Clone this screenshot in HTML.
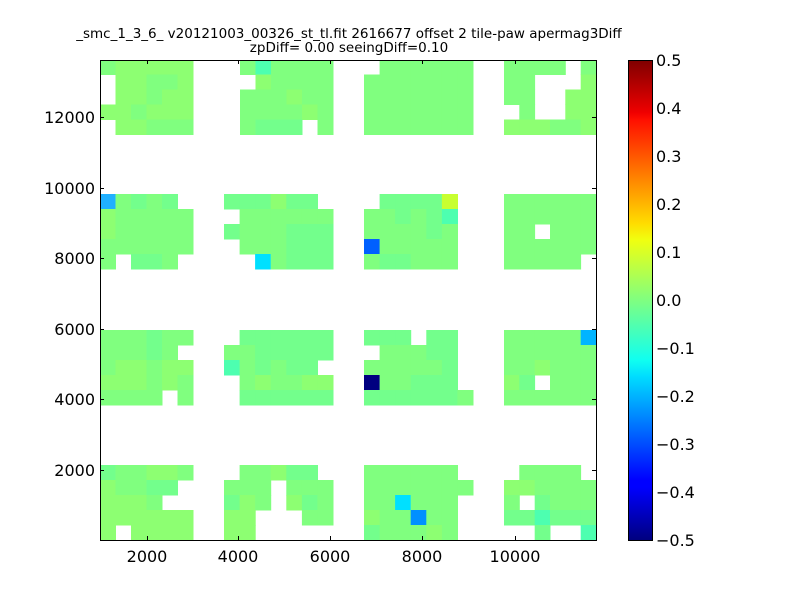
<!DOCTYPE html>
<html><head><meta charset="utf-8"><style>
html,body{margin:0;padding:0;background:#fff;}
svg{display:block;font-family:"DejaVu Sans","Liberation Sans",sans-serif;}
</style></head><body>
<svg id="s" width="800" height="600" viewBox="0 0 800 600" xmlns="http://www.w3.org/2000/svg">
<defs>
<linearGradient id="jet" x1="0" y1="1" x2="0" y2="0">
<stop offset="0" stop-color="#00007f"/>
<stop offset="0.11" stop-color="#0000ff"/>
<stop offset="0.125" stop-color="#0000ff"/>
<stop offset="0.34" stop-color="#00dcff"/>
<stop offset="0.375" stop-color="#10fff0"/>
<stop offset="0.5" stop-color="#80ff80"/>
<stop offset="0.625" stop-color="#f0ff10"/>
<stop offset="0.66" stop-color="#ffdc00"/>
<stop offset="0.875" stop-color="#ff1000"/>
<stop offset="0.89" stop-color="#f00000"/>
<stop offset="1" stop-color="#7f0000"/>
</linearGradient>
</defs>
<text x="349" y="38" font-size="13.5" text-anchor="middle">_smc_1_3_6_ v20121003_00326_st_tl.fit 2616677 offset 2 tile-paw apermag3Diff</text>
<text x="349" y="52" font-size="13.5" text-anchor="middle">zpDiff= 0.00 seeingDiff=0.10</text>
<g id="cells"></g>
<rect x="100.5" y="60.5" width="496" height="480" fill="none" stroke="#000" stroke-width="1"/>
<g id="ticks" stroke="#000" stroke-width="1"></g>
<g font-size="16" id="lbl"></g>
<rect x="628" y="60" width="24" height="480" fill="url(#jet)"/>
<rect x="628.5" y="60.5" width="24" height="480" fill="none" stroke="#000"/>
</svg>
<script>
var C={g:"#80ff7f",y:"#8dff72",c:"#73ff8c",T:"#4dffb0",B:"#20b0ff",C:"#00e0ff",D:"#0060ff",N:"#000080",Y:"#c8ff30",E:"#0090ff",F:"#00b4ff",'2':"#10c0ff"};
var blocks=[
[100,6,60,["gyyyyy",".yyggy",".yygyy","yygyyy",".yyggg"]],
[240,6,60,["gTgggg",".ygggg","gggygg","ggggyg","gccc.g"]],
[364,7,60,[".gggggg","ggggggg","ggggggg","ggggggg","ggggggg"]],
[504,6,60,["gggg.g","gg...y","gg..yy",".g..yy","yyyggy"]],
[100,6,194,["Bgcgc.","yggggg","yggggg","gggggg","g.ccg."]],
[224,7,194,["cccycc.",".gggggg","cgggccc",".gggccc","..Cgccc"]],
[364,7,194,[".ccccY.","ggcgcT.","ggggcg.","Dggggg.","gccggg."]],
[504,6,194,["gggggg","gggggg","gg.ggg","gggggg","ggggg."]],
[100,6,330,["gggcgg","gggcg.","gyygyy","yyygyg","gggg.g"]],
[224,7,330,[".cccccc","ggccccc","Tgcgcc.",".gyggyy",".cccccc"]],
[364,7,330,["ccc.cc.",".gggcc.","gggggc.","Nggccc.","ccccccg"]],
[504,6,330,["gggggF","gggggg","ggyggg","yc.ggg","gggggg"]],
[100,6,465,["cggyyg","yggcc.","yyyg..","yyyyyy","y.yyyy"]],
[224,7,465,[".ggycc.","ggg.ggg","cyg.ycg","yy...gg","yy....."]],
[364,7,465,["gggggg.","ggggggg","ggCggg.","yggEgg.","cgggyg."]],
[504,6,465,[".gggg.","yygggg","g.cggg","ccTccc","..c..T"]]
];
var g=document.getElementById("cells"),h="";
blocks.forEach(function(b){var x0=b[0],n=b[1],y0=b[2],rows=b[3];var w=(b[0]==504?92/6:(n==7?109/7:93/6));
rows.forEach(function(r,ri){for(var ci=0;ci<r.length;ci++){var ch=r[ci];if(ch=="."||ch==" ")continue;
var x=x0+ci*w,y=y0+ri*15,hh=15;if(y0==60&&ri==0){hh=14.5;}else if(y0==60){y=74.5+(ri-1)*15;}
h+='<rect x="'+x.toFixed(1)+'" y="'+y.toFixed(1)+'" width="'+(w+0.5).toFixed(1)+'" height="'+(hh+0.5)+'" fill="'+C[ch]+'"/>';}});});
g.innerHTML=h;
var t="",l="";
[[147,"2000"],[238,"4000"],[330,"6000"],[422,"8000"],[515,"10000"]].forEach(function(p){t+='<line x1="'+p[0]+'.5" y1="540" x2="'+p[0]+'.5" y2="536"/><line x1="'+p[0]+'.5" y1="60" x2="'+p[0]+'.5" y2="64"/>';l+='<text x="'+p[0]+'" y="562" text-anchor="middle">'+p[1]+'</text>';});
[[117,"12000"],[188,"10000"],[258,"8000"],[329,"6000"],[399,"4000"],[470,"2000"]].forEach(function(p){t+='<line x1="100" y1="'+p[0]+'.5" x2="104" y2="'+p[0]+'.5"/><line x1="596" y1="'+p[0]+'.5" x2="592" y2="'+p[0]+'.5"/>';l+='<text x="95" y="'+(p[0]+6)+'" text-anchor="end">'+p[1]+'</text>';});
for(var i=0;i<=10;i++){var y=60+i*48;var v=(0.5-i*0.1).toFixed(1);if(v=="-0.0")v="0.0";v=v.replace("-","\u2212");t+='<line x1="628" y1="'+y+'.5" x2="632" y2="'+y+'.5"/><line x1="652" y1="'+y+'.5" x2="648" y2="'+y+'.5"/>';l+='<text x="656" y="'+(y+6)+'">'+v+'</text>';}
document.getElementById("ticks").innerHTML=t;document.getElementById("lbl").innerHTML=l;
</script>
</body></html>
